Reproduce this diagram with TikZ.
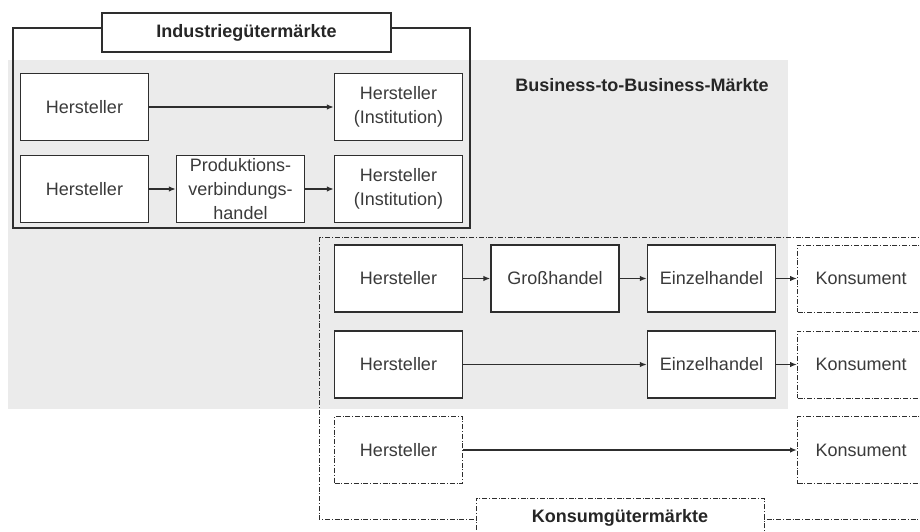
\documentclass[tikz,border=0pt]{standalone}
\usepackage{fontspec}
\setmainfont{Liberation Sans}
\usepackage{xcolor}
\usetikzlibrary{arrows.meta}
\usetikzlibrary{positioning}

\definecolor{bgray}{HTML}{EBEBEB}
\definecolor{ink}{HTML}{3A3A3A}
\definecolor{rule}{HTML}{2E2E2E}

\begin{document}
\begin{tikzpicture}[x=1pt, y=-1pt,
  every node/.style={font=\fontsize{18}{24}\selectfont, text=ink},
  ddot/.style={dash pattern=on 5pt off 1.8pt on 1pt off 1.8pt, line width=1pt},
  ibox/.style={draw=rule, line width=1.3pt, fill=white, align=center, inner sep=0pt,
    minimum width=128, minimum height=67},
  dbox/.style={draw=rule, ddot, fill=white, align=center, inner sep=0pt,
    minimum width=128, minimum height=67},
  kbox/.style={draw=rule, ddot, fill=white, align=left, text width=110, inner xsep=18pt,
    inner ysep=0pt, minimum height=67, anchor=west},
  titel/.style={draw=rule, fill=white, inner sep=0pt, font=\fontsize{18}{24}\selectfont\bfseries,
    text=black!85},
  pfeil/.style={-{Latex[length=7pt,width=5.5pt]}, line width=1.4pt, rule}]

\clip (0,0) rectangle (920,532);

% Hintergrund B2B
\fill[bgray] (8,60) rectangle (788,409);
\node[font=\fontsize{18}{24}\selectfont\bfseries, text=black!85] (b2b) at (642,85) {Business-to-Business-Märkte};

% Rahmen
\draw[rule, line width=1.3pt] (13,28) rectangle (470,228);
\draw[rule, ddot] (319,237) rectangle (945,519);

% Industriegütermärkte
\node[titel, line width=1.3pt, minimum width=289, minimum height=39] (ind) at (246.5,32.5) {Industriegütermärkte};

\node[ibox] (h1) at (84.5,107) {Hersteller};
\node[ibox] (hi1) at (398.5,107) {Hersteller\\(Institution)};

\node[ibox] (h2) at (84.5,189) {Hersteller};
\node[ibox] (pvh) at (240.5,189) {Produktions-\\verbindungs-\\handel};
\node[ibox] (hi2) at (398.5,189) {Hersteller\\(Institution)};

\path[draw, pfeil] (h1) -- (hi1);
\path[draw, pfeil] (h2) -- (pvh);
\path[draw, pfeil] (pvh) -- (hi2);

% Konsumgütermärkte
\node[titel, ddot, minimum width=288, minimum height=40] (kons) at (620,518) {Konsumgütermärkte};

\node[ibox] (ha) at (398.5,278.5) {Hersteller};
\node[ibox] (gh) at (555,278.5) {Großhandel};
\node[ibox] (eha) at (711.5,278.5) {Einzelhandel};
\node[kbox] (ka) at (797,278.5) {Konsument};

\node[ibox] (hb) at (398.5,364.5) {Hersteller};
\node[ibox] (ehb) at (711.5,364.5) {Einzelhandel};
\node[kbox] (kb) at (797,364.5) {Konsument};

\node[dbox] (hc) at (398.5,450) {Hersteller};
\node[kbox] (kc) at (797,450) {Konsument};

\path[draw, pfeil] (ha) -- (gh);
\path[draw, pfeil] (gh) -- (eha);
\path[draw, pfeil] (eha) -- (ka);
\path[draw, pfeil] (hb) -- (ehb);
\path[draw, pfeil] (ehb) -- (kb);
\path[draw, pfeil] (hc) -- (kc);

\end{tikzpicture}
\end{document}
